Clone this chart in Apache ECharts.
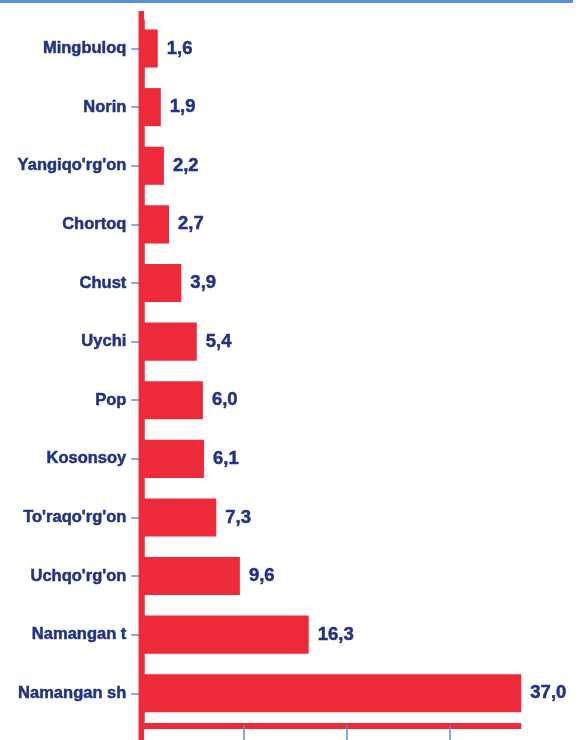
<!DOCTYPE html>
<html>
<head>
<meta charset="utf-8">
<style>
  html, body { margin: 0; padding: 0; background: #fff; }
  #chart { width: 581px; height: 740px; }
</style>
<script src="https://cdn.jsdelivr.net/npm/echarts@6/dist/echarts.min.js"></script>
</head>
<body>
<div id="chart"></div>
<script>
// tumanlar (yuqoridan pastga)
var districts = ['Mingbuloq', 'Norin', "Yangiqo'rg'on", 'Chortoq', 'Chust', 'Uychi', 'Pop',
  'Kosonsoy', "To'raqo'rg'on", "Uchqo'rg'on", 'Namangan t', 'Namangan sh'];
var shares = [1.6, 1.9, 2.2, 2.7, 3.9, 5.4, 6.0, 6.1, 7.3, 9.6, 16.3, 37.0];
var xTicks = [0, 10, 20, 30];

var red = '#ec2a3a';
var navy = '#213287';
var tickBlue = '#5b8ee0';
var font = "'Liberation Sans', Arial, sans-serif";

var chart = echarts.init(document.getElementById('chart'));
var option = {
  animation: false,
  grid: { left: 141.3, right: 59.7, top: 19.2, bottom: 17.4, outerBoundsMode: 'none' },
  xAxis: {
    type: 'value',
    min: 0,
    max: 37,
    interval: 10,
    offset: 3,
    axisLine: { show: true, lineStyle: { color: red, width: 6, cap: 'butt' } },
    axisTick: { show: true, customValues: xTicks, length: 15, lineStyle: { color: tickBlue, width: 1.5 } },
    axisLabel: { show: false },
    splitLine: { show: false }
  },
  yAxis: {
    type: 'category',
    data: districts,
    inverse: true,
    axisLine: { show: true, lineStyle: { color: red, width: 5.5, cap: 'butt' } },
    axisTick: { show: true, alignWithLabel: true, length: 10, lineStyle: { color: tickBlue, width: 1.5 } },
    axisLabel: {
      margin: 15, color: navy, fontWeight: 'bold', fontSize: 16.5, fontFamily: font,
      textBorderColor: navy, textBorderWidth: 0.5
    }
  },
  series: [{
    type: 'bar',
    data: shares,
    barCategoryGap: '35%',
    itemStyle: { color: red },
    label: {
      show: true,
      position: 'right',
      distance: 9,
      color: navy,
      fontWeight: 'bold',
      fontSize: 18.5,
      fontFamily: font,
      textBorderColor: navy,
      textBorderWidth: 0.5,
      formatter: function (p) { return p.value.toFixed(1).replace('.', ','); }
    }
  }]
};
chart.setOption(option);

var x0 = chart.convertToPixel({ gridIndex: 0 }, [0, 0])[0];
chart.setOption({
  graphic: [
    { type: 'rect', shape: { x: 0, y: 0, width: 573, height: 3 }, style: { fill: '#5590d8' }, z: 10 },
    { type: 'line', shape: { x1: x0, y1: 11, x2: x0, y2: 740 }, style: { stroke: red, lineWidth: 5.5 }, z: 10 }
  ]
});
</script>
</body>
</html>
